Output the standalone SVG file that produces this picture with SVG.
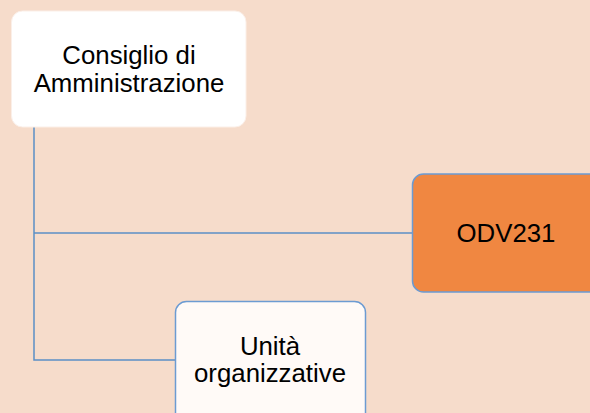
<svg xmlns="http://www.w3.org/2000/svg" width="590" height="413" viewBox="0 0 590 413">
<style>
.t{font-family:"Liberation Sans",Arial,sans-serif;font-size:25.8px;fill:#000;text-anchor:middle}
.c{fill:none;stroke:#5B8FC6;stroke-width:1.5}
.b{stroke:#6C9BD2;stroke-width:1.5}
</style>
<rect width="590" height="413" fill="#F6DCCB"/>
<g id="connectors">
<path class="c" d="M34 127V360H176"/>
<path class="c" d="M34 233H413"/>
</g>
<g id="cda">
<rect x="11.5" y="11" width="234.5" height="116" rx="11" fill="#FFFFFF" stroke="#FBEFE8" stroke-width="1"/>
<text class="t" x="129" y="64">Consiglio di</text>
<text class="t" x="129" y="92">Amministrazione</text>
</g>
<g id="odv">
<rect class="b" x="412.5" y="174" width="190" height="118" rx="11" fill="#F08741"/>
<text class="t" x="506" y="242">ODV231</text>
</g>
<g id="unita">
<rect class="b" x="175.5" y="301.5" width="190" height="130" rx="11" fill="#FFFAF7"/>
<text class="t" x="270" y="355">Unità</text>
<text class="t" x="270" y="382">organizzative</text>
</g>
</svg>
